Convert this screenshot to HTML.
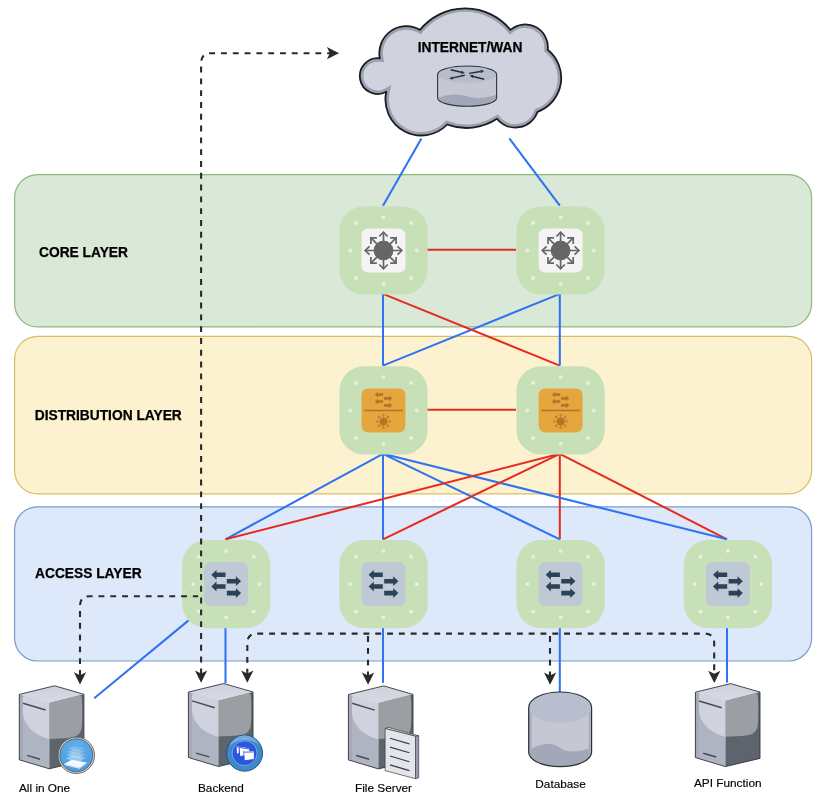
<!DOCTYPE html>
<html lang="en">
<head>
<meta charset="utf-8">
<title>Network Topology</title>
<style>
html,body{margin:0;padding:0;background:#fff;}
body{width:825px;height:804px;overflow:hidden;}
svg{display:block;will-change:transform;}
text{font-family:"Liberation Sans",Arial,Helvetica,sans-serif;fill:#000;}
.ttl{font-weight:bold;font-size:13.78px;stroke:#000;stroke-width:0.25px;}
.lbl{font-size:11.8px;stroke:#000;stroke-width:0.15px;}
.bl{stroke:#2e73f2;stroke-width:2.05;fill:none;}
.rd{stroke:#e62b1e;stroke-width:2.05;fill:none;}
.ds{stroke:#2a2a2a;stroke-width:2.1;fill:none;stroke-dasharray:5.9 5.9;}
.ah{fill:#2a2a2a;stroke:#2a2a2a;stroke-width:2;stroke-linejoin:miter;stroke-miterlimit:10;}
</style>
</head>
<body>
<svg width="825" height="804" viewBox="0 0 825 804">
<defs>
  <!-- green node background with 8 dots -->
  <g id="node">
    <rect x="-44.1" y="-44.1" width="88.2" height="88.2" rx="24.5" ry="24.5" fill="#c8e0b7"/>
    <g fill="#e8f1e0">
      <circle cx="0" cy="-33.2" r="1.9"/><circle cx="0" cy="33.2" r="1.9"/>
      <circle cx="-33.2" cy="0" r="1.9"/><circle cx="33.2" cy="0" r="1.9"/>
      <circle cx="-27.5" cy="-27.5" r="1.9"/><circle cx="27.5" cy="-27.5" r="1.9"/>
      <circle cx="-27.5" cy="27.5" r="1.9"/><circle cx="27.5" cy="27.5" r="1.9"/>
    </g>
  </g>
  <!-- multilayer switch glyph (unit: radius 18.7) -->
  <g id="mls">
    <circle cx="0" cy="0" r="9.4"/>
    <g fill="none" stroke-width="1.7" stroke-linecap="butt" stroke-linejoin="miter">
      <path d="M0 -18 V18 M-18 0 H18"/>
      <path d="M-4.2 -14 L0 -18.3 L4.2 -14"/>
      <path d="M-4.2 14 L0 18.3 L4.2 14"/>
      <path d="M-14 -4.2 L-18.3 0 L-14 4.2"/>
      <path d="M14 -4.2 L18.3 0 L14 4.2"/>
      <path d="M-12.6 -12.6 L12.6 12.6 M-12.6 12.6 L12.6 -12.6"/>
      <path d="M-12.6 -6.6 V-12.6 H-6.6"/>
      <path d="M12.6 -6.6 V-12.6 H6.6"/>
      <path d="M-12.6 6.6 V12.6 H-6.6"/>
      <path d="M12.6 6.6 V12.6 H6.6"/>
    </g>
  </g>
  <!-- L2 switch arrows glyph -->
  <g id="swa">
    <path d="M-14.9 -9.3 L-9.7 -14.2 V-11.6 H-0.7 V-7 H-9.7 V-4.4 Z"/>
    <path d="M-14.9 2.4 L-9.7 -2.5 V0.1 H-0.7 V4.7 H-9.7 V7.3 Z"/>
    <path d="M14.9 -2.9 L9.7 -7.8 V-5.2 H0.7 V-0.6 H9.7 V2 Z"/>
    <path d="M14.9 9 L9.7 4.1 V6.7 H0.7 V11.3 H9.7 V13.9 Z"/>
  </g>
  <g id="core">
    <use href="#node"/>
    <rect x="-22" y="-22" width="44" height="44" rx="6.6" ry="6.6" fill="#f4f4f4"/>
    <use href="#mls" fill="#666" stroke="#666"/>
  </g>
  <g id="dist">
    <use href="#node"/>
    <rect x="-22" y="-22" width="44" height="44" rx="6.6" ry="6.6" fill="#e5a63d"/>
    <path d="M-19.5 0 H19.5" stroke="#b17628" stroke-width="1.5" fill="none"/>
    <use href="#swa" fill="#b17628" transform="translate(0 -10.3) scale(0.585)"/>
    <use href="#mls" fill="#b17628" stroke="#b17628" transform="translate(0 11) scale(0.4)"/>
  </g>
  <g id="acc">
    <use href="#node"/>
    <rect x="-22" y="-22" width="44" height="44" rx="6.6" ry="6.6" fill="#bfc9d5"/>
    <path d="M-9.7 -7 H-0.7 V0.1 H-9.7 Z M0.7 -0.6 H9.7 V6.7 H0.7 Z" fill="#c5ced9"/>
    <use href="#swa" fill="#2b4259"/>
  </g>
  <!-- arrow head: visual tip at 0,0 pointing down -->
  <path id="arr" class="ah" d="M0 -1.3 L-3.9 -9.1 L0 -7.2 L3.9 -9.1 Z"/>

  <!-- server -->
  <linearGradient id="gl" x1="0" y1="0" x2="1" y2="0">
    <stop offset="0" stop-color="#a4a9ba"/><stop offset="0.12" stop-color="#b1b6c5"/><stop offset="1" stop-color="#afb4c3"/>
  </linearGradient>
  <linearGradient id="gt" x1="0.5" y1="0" x2="0.45" y2="1">
    <stop offset="0" stop-color="#cfd2dc"/><stop offset="1" stop-color="#d8dbe4"/>
  </linearGradient>
  <g id="srv">
    <path d="M0 9.6 L35.3 1 L64.6 9.5 L30.2 18.3 Z" fill="url(#gt)"/>
    <path d="M0 9.6 L30.2 18.3 L30 84 L0 75 Z" fill="#afb4c3"/>
    <path d="M0 9.6 L3.5 10.6 V76 L0 75 Z" fill="#a5aabb"/>
    <path d="M30.2 18.3 L64.6 9.5 V75.8 L30 84 Z" fill="#5d646c"/>
    <path d="M3.5 14 Q3.5 10.5 6.5 11.4 L30.2 18.2 V54.1 C21 52.5 5.5 45 3.5 28 Z" fill="#d0d3dd"/>
    <path d="M30.2 18.2 L59.5 10.7 Q62.3 10.2 62.5 13.5 C63 22 63 32 62.6 40 C62.2 47 60 51.5 52 52.6 C44 53.6 37 54 30.2 54.1 Z" fill="#9b9fa3"/>
    <path d="M3.7 18.4 L26.3 25.2" stroke="#474c54" stroke-width="1.5" fill="none"/>
    <path d="M7.8 70.6 L20.8 74.4" stroke="#474c54" stroke-width="1.5" fill="none"/>
    <path d="M0 9.6 L35.3 1 L64.6 9.5 V75.8 L30 84 L0 75 Z" fill="none" stroke="#33363b" stroke-width="0.9" stroke-linejoin="round"/>
  </g>
  <radialGradient id="gb1" cx="0.5" cy="0.3" r="0.8">
    <stop offset="0" stop-color="#62aee9"/><stop offset="1" stop-color="#479adf"/>
  </radialGradient>
</defs>

<!-- layers -->
<g id="layers">
  <rect x="14.6" y="174.6" width="797" height="152.2" rx="23" ry="23" fill="#d9e8d7" stroke="#8fb976" stroke-width="1.2"/>
  <rect x="14.6" y="336.4" width="797" height="157.4" rx="23" ry="23" fill="#fdf2d0" stroke="#d9bc64" stroke-width="1.2"/>
  <rect x="14.6" y="506.8" width="797" height="154.2" rx="23" ry="23" fill="#dde8fa" stroke="#7d9bc9" stroke-width="1.2"/>
</g>

<!-- layer titles -->
<text class="ttl" x="39" y="256.6">CORE LAYER</text>
<text class="ttl" x="34.7" y="420">DISTRIBUTION LAYER</text>
<text class="ttl" x="35" y="578">ACCESS LAYER</text>

<!-- cloud -->
<g id="cloud">
  <clipPath id="cc"><path d="M386.3 91.8 A17.9 17.9 0 1 1 379.85 58.3 A27 27 0 0 1 420 29.85 A58.3 58.3 0 0 1 510.4 29.85 A22.7 22.7 0 0 1 547.7 49.75 A36.1 36.1 0 0 1 537.6 111.8 A23.6 23.6 0 0 1 497 118.8 A55.4 55.4 0 0 1 447.2 124.5 A35.9 35.9 0 0 1 386.3 91.8 Z"/></clipPath>
  <path d="M386.3 91.8 A17.9 17.9 0 1 1 379.85 58.3 A27 27 0 0 1 420 29.85 A58.3 58.3 0 0 1 510.4 29.85 A22.7 22.7 0 0 1 547.7 49.75 A36.1 36.1 0 0 1 537.6 111.8 A23.6 23.6 0 0 1 497 118.8 A55.4 55.4 0 0 1 447.2 124.5 A35.9 35.9 0 0 1 386.3 91.8 Z" fill="#d0d3dd"/>
  <path d="M386.3 91.8 A17.9 17.9 0 1 1 379.85 58.3 A27 27 0 0 1 420 29.85 A58.3 58.3 0 0 1 510.4 29.85 A22.7 22.7 0 0 1 547.7 49.75 A36.1 36.1 0 0 1 537.6 111.8 A23.6 23.6 0 0 1 497 118.8 A55.4 55.4 0 0 1 447.2 124.5 A35.9 35.9 0 0 1 386.3 91.8 Z" fill="none" stroke="#9aa0b2" stroke-width="7" clip-path="url(#cc)"/>
  <path d="M386.3 91.8 A17.9 17.9 0 1 1 379.85 58.3 A27 27 0 0 1 420 29.85 A58.3 58.3 0 0 1 510.4 29.85 A22.7 22.7 0 0 1 547.7 49.75 A36.1 36.1 0 0 1 537.6 111.8 A23.6 23.6 0 0 1 497 118.8 A55.4 55.4 0 0 1 447.2 124.5 A35.9 35.9 0 0 1 386.3 91.8 Z" fill="none" stroke="#1c1c1c" stroke-width="1.8" stroke-linejoin="round"/>
  <!-- router -->
  <g id="router" transform="translate(0 0.4)">
    <path d="M437.6 74 A29.5 8.4 0 0 1 496.6 74 V97.6 A29.5 8.3 0 0 1 437.6 97.6 Z" fill="#c5c8d3"/>
    <path d="M437.6 97.6 A29.5 8.3 0 0 0 496.6 97.6 V94 C488 97.5 478 98.5 470 96.5 C461 93.5 450 92.5 437.6 97.6 Z" fill="#a3a8b9"/>
    <ellipse cx="467.1" cy="74" rx="29.5" ry="8.4" fill="#b8bdcd"/>
    <path d="M437.6 74 A29.5 8.4 0 0 1 496.6 74 V97.6 A29.5 8.3 0 0 1 437.6 97.6 Z" fill="none" stroke="#33353a" stroke-width="1.1"/>
    <g stroke="#2b2c31" stroke-width="1.45" fill="#2b2c31">
      <path d="M450.7 69.3 L461.3 71.8" fill="none"/><path d="M464.8 72.7 L460.9 73.5 L461.7 70.2 Z" stroke="none"/>
      <path d="M464.8 74.9 L452.8 77.5" fill="none"/><path d="M449.2 78.3 L452.4 75.9 L453.1 79.2 Z" stroke="none"/>
      <path d="M469.1 73.0 L480.6 71.1" fill="none"/><path d="M484.2 70.5 L480.9 72.8 L480.4 69.4 Z" stroke="none"/>
      <path d="M484.2 78.8 L473.1 76.1" fill="none"/><path d="M469.6 75.2 L473.5 74.4 L472.7 77.7 Z" stroke="none"/>
    </g>
  </g>
  <text class="ttl" x="417.7" y="51.8">INTERNET/WAN</text>
</g>

<!-- links -->
<g id="links">
  <path class="bl" d="M421.4 138.5 L383 205.7"/>
  <path class="bl" d="M509.3 138.3 L559.8 205.7"/>
  <path class="rd" d="M427 249.8 H516"/>
  <path class="bl" d="M559.8 293.9 L383 365.6"/>
  <path class="rd" d="M383 293.9 L559.8 365.6"/>
  <path class="bl" d="M383 293.9 V365.6"/>
  <path class="bl" d="M559.8 293.9 V365.6"/>
  <path class="rd" d="M427 409.7 H516"/>
  <path class="rd" d="M559.8 453.8 V539.3"/>
  <path class="rd" d="M559.8 453.8 L727 539.3"/>
  <path class="bl" d="M383 453.8 L225.5 539.3"/>
  <path class="bl" d="M383 453.8 V539.3"/>
  <path class="bl" d="M383 453.8 L559.8 539.3"/>
  <path class="bl" d="M383 453.8 L727 539.3"/>
  <path class="rd" d="M559.8 453.8 L225.5 539.3"/>
  <path class="rd" d="M559.8 453.8 L383 539.3"/>
  <path class="bl" d="M188.6 620.4 L94.2 698.2"/>
  <path class="bl" d="M225.5 627.5 V683"/>
  <path class="bl" d="M383 627.5 V682.9"/>
  <path class="bl" d="M559.8 627.5 V692"/>
  <path class="bl" d="M727 627.5 V682.6"/>
</g>

<!-- nodes -->
<g id="nodes">
  <use href="#core" x="383.5" y="250.5"/>
  <use href="#core" x="560.6" y="250.5"/>
  <use href="#dist" x="383.5" y="410.4"/>
  <use href="#dist" x="560.6" y="410.4"/>
  <use href="#acc" x="226.2" y="584.1"/>
  <use href="#acc" x="383.5" y="584.1"/>
  <use href="#acc" x="560.6" y="584.1"/>
  <use href="#acc" x="727.9" y="584.1"/>
</g>

<!-- dashed connectors -->
<g id="dashed">
  <path class="ds" d="M201.1 674.3 V63 Q201.1 53.2 210.9 53.2 H330"/>
  <path class="ds" d="M80 675.9 V606 Q80 596.2 89.8 596.2 H198.2"/>
  <path class="ds" d="M247.3 674.6 V643.4 Q247.3 633.6 257.1 633.6 H704.4 Q714.2 633.6 714.2 643.4 V675"/>
  <path class="ds" d="M368 677.4 V633.6"/>
  <path class="ds" d="M550 677.4 V633.6"/>
  <use href="#arr" transform="translate(338.2 53.2) rotate(-90)"/>
  <use href="#arr" transform="translate(201.1 681.8)"/>
  <use href="#arr" transform="translate(80 683.5)"/>
  <use href="#arr" transform="translate(247.3 681.8)"/>
  <use href="#arr" transform="translate(368.1 683.8)"/>
  <use href="#arr" transform="translate(550.1 683.8)"/>
  <use href="#arr" transform="translate(714.3 682)"/>
</g>

<!-- servers -->
<g id="servers">
  <g id="allinone" transform="translate(19.3 684.8)">
    <use href="#srv"/>
    <circle cx="57" cy="70.5" r="18.2" fill="#dcdcdc" stroke="#5a5a5a" stroke-width="0.9"/>
    <circle cx="57" cy="70.5" r="16.5" fill="url(#gb1)" stroke="#5a5a5a" stroke-width="0.9"/>
    <g fill="#fff">
      <path d="M44.9 79.2 L52.4 74.9 L67.3 77.7 L60.1 83 Z" opacity="0.95"/>
      <path d="M44.9 79.2 L60.1 83 L67.3 77.7 V78.7 L60.1 84 L44.9 80.2 Z" fill="#e8eef5"/>
      <path d="M46 74 L53 70.5 L66.5 73 L59.5 77 Z" opacity="0.4"/>
      <path d="M46.5 70.5 L53.5 67.3 L66 69.8 L59.5 73.3 Z" opacity="0.32"/>
      <path d="M47 67.2 L54 64.3 L65.5 66.5 L59.5 69.8 Z" opacity="0.25"/>
      <path d="M47.5 64 L54.5 61.4 L65 63.3 L59.5 66.4 Z" opacity="0.18"/>
    </g>
  </g>
  <g id="backend" transform="translate(188.4 682.5)">
    <use href="#srv"/>
    <g transform="translate(0 0.8)">
    <circle cx="56.2" cy="69.9" r="18" fill="#3d89cb" stroke="#1d4f86" stroke-width="0.9"/>
    <path d="M41 63 A16 16 0 0 1 71 62 A22 22 0 0 0 41 63 Z" fill="#7fb6e6" opacity="0.8"/>
    <circle cx="56.2" cy="69.9" r="12.4" fill="#2a56e0" stroke="#a9b4c8" stroke-width="0.7"/>
    <g fill="#fff">
      <path d="M48.1 62.9 L50.3 63.2 V69.6 L48.7 70.5 Z"/>
      <path d="M51.2 63.4 L60.8 64.9 V68.5 L56 71.6 L51.8 73 Z"/>
      <path d="M55.5 68 L65.5 67.7 V75.8 L56.2 77 Z"/>
    </g>
    <g fill="none" stroke="#2a56e0" stroke-width="0.9">
      <path d="M51.2 64.2 L60.8 65.7"/>
      <path d="M55.5 68.9 L65.5 68.6"/>
      <path d="M48.1 63.7 L50.3 64"/>
      <path d="M55.1 67.6 L55.8 77.2" stroke-width="0.7"/>
    </g>
    </g>
  </g>
  <g id="fileserver" transform="translate(348.4 684.9)">
    <use href="#srv"/>
    <g transform="translate(0 0.7)"><path d="M36.7 42.9 L39.9 41.8 L70.3 50.2 L67.1 50.6 Z" fill="#eeeff3" stroke="#3a3c42" stroke-width="0.7" stroke-linejoin="round"/>
    <path d="M67.1 50.6 L70.3 50.2 V92.2 L67.1 93.1 Z" fill="#989db0" stroke="#3a3c42" stroke-width="0.7" stroke-linejoin="round"/>
    <path d="M36.7 42.9 L67.1 50.6 V93.1 L36.7 85 Z" fill="#e4e5ea" stroke="#3a3c42" stroke-width="0.7" stroke-linejoin="round"/>
    <g stroke="#3b3d45" stroke-width="1.1" fill="none">
      <path d="M41.6 52.6 L61 58.3"/>
      <path d="M41.6 61.5 L61 67.2"/>
      <path d="M41.6 70.4 L61 76.1"/>
      <path d="M41.6 79.3 L61 85"/>
    </g></g>
  </g>
  <g id="database">
    <path d="M528.7 707.4 A31.45 15.4 0 0 1 591.6 707.4 V752.2 A31.45 14.5 0 0 1 528.7 752.2 Z" fill="#c5c8d3"/>
    <path d="M528.7 707.4 V752.2 A31.45 14.5 0 0 0 591.6 752.2 V707.4 L589 707.4 V748.5 C578 752.5 567 752.5 561 748.5 C554 743 545 741.5 531.3 749 V707.4 Z" fill="#a3a8b9"/>
    <path d="M528.7 707.4 V752 H531.5 V707.4 Z M588.8 707.4 V752 H591.6 V707.4 Z" fill="#abb0c0"/>
    <ellipse cx="560.15" cy="707.4" rx="31.45" ry="15.4" fill="#b9bece"/>
    <path d="M528.7 707.4 A31.45 15.4 0 0 1 591.6 707.4 V752.2 A31.45 14.5 0 0 1 528.7 752.2 Z" fill="none" stroke="#2f3136" stroke-width="1.2"/>
  </g>
  <g id="apifn" transform="translate(695.4 682.6)">
    <use href="#srv"/>
  </g>
</g>

<!-- labels -->
<text class="lbl" x="19" y="792.2">All in One</text>
<text class="lbl" x="198" y="792.2">Backend</text>
<text class="lbl" x="355" y="792.2">File Server</text>
<text class="lbl" x="535.3" y="788">Database</text>
<text class="lbl" x="694" y="786.5">API Function</text>
</svg>
</body>
</html>
